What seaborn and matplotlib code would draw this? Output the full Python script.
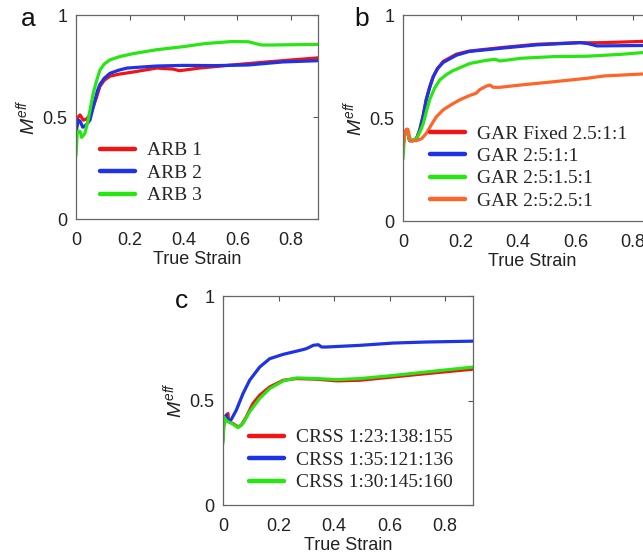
import numpy as np
import pandas as pd
import matplotlib
matplotlib.use("Agg")
import matplotlib.pyplot as plt
import seaborn as sns

# ---- Panel a: ARB series ----
arb1_x = [0.0, 0.008, 0.015, 0.027, 0.039, 0.052, 0.064, 0.077, 0.089, 0.105, 0.126, 0.16, 0.21, 0.30, 0.36, 0.385, 0.46, 0.58, 0.71, 0.90]
arb1_y = [0.47, 0.50, 0.51, 0.485, 0.49, 0.51, 0.55, 0.60, 0.65, 0.68, 0.70, 0.71, 0.72, 0.74, 0.735, 0.727, 0.74, 0.755, 0.77, 0.79]
arb2_x = [0.0, 0.008, 0.015, 0.025, 0.037, 0.052, 0.070, 0.080, 0.089, 0.105, 0.126, 0.16, 0.19, 0.30, 0.40, 0.52, 0.64, 0.77, 0.90]
arb2_y = [0.42, 0.485, 0.48, 0.45, 0.46, 0.485, 0.58, 0.63, 0.66, 0.69, 0.714, 0.73, 0.74, 0.75, 0.753, 0.752, 0.755, 0.77, 0.776]
arb3_x = [0.0, 0.005, 0.015, 0.021, 0.033, 0.045, 0.064, 0.077, 0.089, 0.105, 0.126, 0.16, 0.21, 0.30, 0.40, 0.48, 0.58, 0.64, 0.69, 0.73, 0.90]
arb3_y = [0.31, 0.43, 0.43, 0.40, 0.42, 0.485, 0.616, 0.68, 0.73, 0.76, 0.78, 0.795, 0.81, 0.83, 0.845, 0.86, 0.87, 0.869, 0.853, 0.853, 0.856]

# ---- Panel b: GAR series ----
garfix_x = [0.0, 0.006, 0.014, 0.023, 0.035, 0.047, 0.058, 0.070, 0.081, 0.093, 0.105, 0.12, 0.14, 0.186, 0.23, 0.35, 0.465, 0.616, 0.64, 0.70, 0.90]
garfix_y = [0.36, 0.43, 0.445, 0.39, 0.39, 0.40, 0.44, 0.51, 0.59, 0.65, 0.70, 0.74, 0.775, 0.81, 0.825, 0.843, 0.858, 0.866, 0.865, 0.866, 0.875]
gar1_x = [0.0, 0.006, 0.014, 0.023, 0.035, 0.047, 0.058, 0.070, 0.081, 0.093, 0.105, 0.12, 0.14, 0.186, 0.23, 0.35, 0.465, 0.616, 0.64, 0.674, 0.90]
gar1_y = [0.36, 0.43, 0.445, 0.39, 0.39, 0.40, 0.44, 0.51, 0.59, 0.65, 0.70, 0.74, 0.77, 0.805, 0.823, 0.84, 0.855, 0.866, 0.862, 0.85, 0.853]
gar15_x = [0.0, 0.006, 0.014, 0.023, 0.047, 0.058, 0.070, 0.081, 0.093, 0.11, 0.128, 0.15, 0.174, 0.233, 0.29, 0.32, 0.337, 0.41, 0.523, 0.64, 0.756, 0.90]
gar15_y = [0.30, 0.43, 0.445, 0.39, 0.40, 0.43, 0.47, 0.53, 0.59, 0.645, 0.685, 0.71, 0.73, 0.765, 0.78, 0.785, 0.777, 0.79, 0.798, 0.80, 0.809, 0.825]
gar25_x = [0.0, 0.009, 0.017, 0.026, 0.047, 0.065, 0.081, 0.10, 0.116, 0.14, 0.174, 0.20, 0.233, 0.254, 0.267, 0.29, 0.302, 0.314, 0.337, 0.407, 0.523, 0.64, 0.698, 0.836, 0.90]
gar25_y = [0.36, 0.44, 0.445, 0.39, 0.39, 0.40, 0.425, 0.47, 0.506, 0.54, 0.57, 0.59, 0.61, 0.62, 0.638, 0.655, 0.66, 0.649, 0.649, 0.66, 0.676, 0.693, 0.704, 0.714, 0.72]

# ---- Panel c: CRSS series ----
crss1_x = [0.0, 0.004, 0.012, 0.018, 0.020, 0.036, 0.054, 0.066, 0.084, 0.108, 0.132, 0.168, 0.217, 0.265, 0.337, 0.41, 0.493, 0.614, 0.734, 0.90]
crss1_y = [0.31, 0.41, 0.43, 0.438, 0.40, 0.39, 0.374, 0.382, 0.422, 0.486, 0.525, 0.565, 0.597, 0.605, 0.602, 0.594, 0.597, 0.613, 0.629, 0.65]
crss2_x = [0.0, 0.004, 0.012, 0.018, 0.030, 0.048, 0.072, 0.096, 0.132, 0.168, 0.217, 0.277, 0.30, 0.325, 0.343, 0.355, 0.373, 0.493, 0.614, 0.734, 0.90]
crss2_y = [0.34, 0.41, 0.43, 0.40, 0.41, 0.454, 0.533, 0.597, 0.66, 0.70, 0.721, 0.74, 0.748, 0.764, 0.767, 0.756, 0.756, 0.764, 0.775, 0.78, 0.784]
crss3_x = [0.0, 0.004, 0.008, 0.016, 0.036, 0.054, 0.072, 0.096, 0.132, 0.168, 0.217, 0.265, 0.337, 0.41, 0.493, 0.614, 0.734, 0.90]
crss3_y = [0.295, 0.42, 0.41, 0.40, 0.387, 0.37, 0.39, 0.446, 0.51, 0.557, 0.594, 0.608, 0.605, 0.60, 0.605, 0.62, 0.637, 0.66]

RED = "#f01414"
BLUE = "#1e32e6"
GREEN = "#28e614"
ORANGE = "#ff6428"


def frame(series):
    parts = []
    for name, xs, ys in series:
        parts.append(pd.DataFrame({"strain": xs, "meff": ys, "series": name}))
    return pd.concat(parts, ignore_index=True)


sns.set_style("white")
plt.rcParams["font.family"] = ["Liberation Sans", "DejaVu Sans"]
plt.rcParams["mathtext.fontset"] = "custom"
plt.rcParams["mathtext.it"] = "Liberation Sans:italic"
plt.rcParams["mathtext.rm"] = "Liberation Sans"

fig = plt.figure(figsize=(6.43, 5.56), dpi=100)

panels = [
    ("a", [0.1182, 0.6061, 0.3764, 0.3669],
     [("ARB 1", arb1_x, arb1_y), ("ARB 2", arb2_x, arb2_y), ("ARB 3", arb3_x, arb3_y)],
     [RED, BLUE, GREEN], (0.099, 0.225), (28, 19)),
    ("b", [0.6267, 0.6025, 0.4028, 0.3705],
     [("GAR Fixed 2.5:1:1", garfix_x, garfix_y), ("GAR 2:5:1:1", gar1_x, gar1_y),
      ("GAR 2:5:1.5:1", gar15_x, gar15_y), ("GAR 2:5:2.5:1", gar25_x, gar25_y)],
     [RED, BLUE, GREEN, ORANGE], (0.104, 0.26), (362, 19)),
    ("c", [0.3468, 0.0917, 0.3888, 0.3759],
     [("CRSS 1:23:138:155", crss1_x, crss1_y), ("CRSS 1:35:121:136", crss2_x, crss2_y),
      ("CRSS 1:30:145:160", crss3_x, crss3_y)],
     [RED, BLUE, GREEN], (0.104, 0.215), (182, 301)),
]

for letter, rect, series, colors, leg_anchor, lab_px in panels:
    ax = fig.add_axes(rect)
    df = frame(series)
    names = [s[0] for s in series]
    sns.lineplot(data=df, x="strain", y="meff", hue="series", hue_order=names,
                 palette=colors, linewidth=2.3, sort=False, estimator=None,
                 legend=False, ax=ax)
    ax.set_xlim(0, 0.9)
    ax.set_ylim(0, 1)
    ax.set_xticks([0, 0.2, 0.4, 0.6, 0.8])
    ax.set_xticklabels(["0", "0.2", "0.4", "0.6", "0.8"])
    ax.set_yticks([0, 0.5, 1])
    ax.set_yticklabels(["0", "0.5", "1"])
    ax.tick_params(direction="in", top=True, right=True, length=3.5, width=0.8,
                   colors="#555555", labelcolor="#222222", labelsize=13)
    ax.tick_params(axis="x", pad=9)
    ax.tick_params(axis="y", pad=6)
    for sp in ax.spines.values():
        sp.set_color("#666666")
        sp.set_linewidth(0.9)
    ax.set_xlabel("True Strain", fontsize=13, color="#222222", labelpad=2)
    ax.set_ylabel(r"$M^{eff}$", fontsize=14, color="#222222", labelpad=3)

    handles = [plt.Line2D([], [], color=c, lw=3.2) for c in colors]
    ax.legend(handles, names, loc="center left", bbox_to_anchor=leg_anchor,
              frameon=False, borderaxespad=0, borderpad=0,
              handlelength=1.8, handletextpad=0.6, labelspacing=0.25,
              prop={"family": "Liberation Serif", "size": 14})

    fig.text(lab_px[0] / 643, 1 - lab_px[1] / 556, letter, fontsize=19,
             ha="center", va="center", color="#111111")

fig.savefig("out.png", dpi=100)
